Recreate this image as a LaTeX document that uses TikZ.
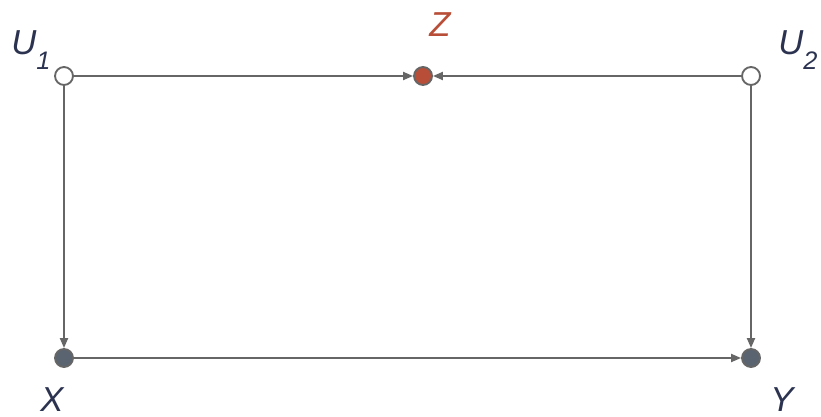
\documentclass[tikz,border=0pt]{standalone}
\usepackage{fontspec}
\setmainfont{Liberation Sans}
\usetikzlibrary{arrows.meta}
\newcommand{\subidx}[1]{\raisebox{-0.42em}{\fontsize{19}{19}\selectfont #1}}
\begin{document}
\begin{tikzpicture}[x=0.75pt, y=-0.75pt, line cap=round, line join=round,
      >={Triangle[length=7.5pt,width=6pt]},
      every node/.style={inner sep=0pt},
      latent/.style={circle, draw=edgeGray, line width=1.4pt, fill=white, minimum size=13.5pt},
      observed/.style={circle, draw=edgeGray, line width=1.4pt, fill=obsGray, minimum size=13.5pt},
      collider/.style={circle, draw=edgeGray, line width=1.4pt, fill=zRed, minimum size=13.5pt},
      varname/.style={anchor=base west, text=labelNavy, font=\fontsize{26}{26}\selectfont\itshape},
      edge/.style={->, draw=edgeGray, fill=edgeGray, line width=1.5pt}]
    \definecolor{zRed}{RGB}{184,78,56}
    \definecolor{obsGray}{RGB}{90,100,112}
    \definecolor{edgeGray}{RGB}{102,102,102}
    \definecolor{labelNavy}{RGB}{43,51,80}
    \useasboundingbox (0,0) rectangle (821,417);
    % ==== variables ====
    \node[latent] (u1) at (64,76) {};
    \node[collider] (z) at (423,76) {};
    \node[latent] (u2) at (751,76) {};
    \node[observed] (x) at (64,358) {};
    \node[observed] (y) at (751,358) {};
    % ==== names ====
    \node[varname] (u1name) at (11,55) {U\subidx{1}};
    \node[varname, text=zRed] (zname) at (429,37) {Z};
    \node[varname] (u2name) at (778,55) {U\subidx{2}};
    \node[varname] (xname) at (40,411) {X};
    \node[varname] (yname) at (770,411) {Y};
    % ==== edges ====
    \draw[edge] (u1) -- (z);
    \draw[edge] (u2) -- (z);
    \draw[edge] (u1) -- (x);
    \draw[edge] (u2) -- (y);
    \draw[edge] (x) -- (y);
  \end{tikzpicture}
\end{document}
